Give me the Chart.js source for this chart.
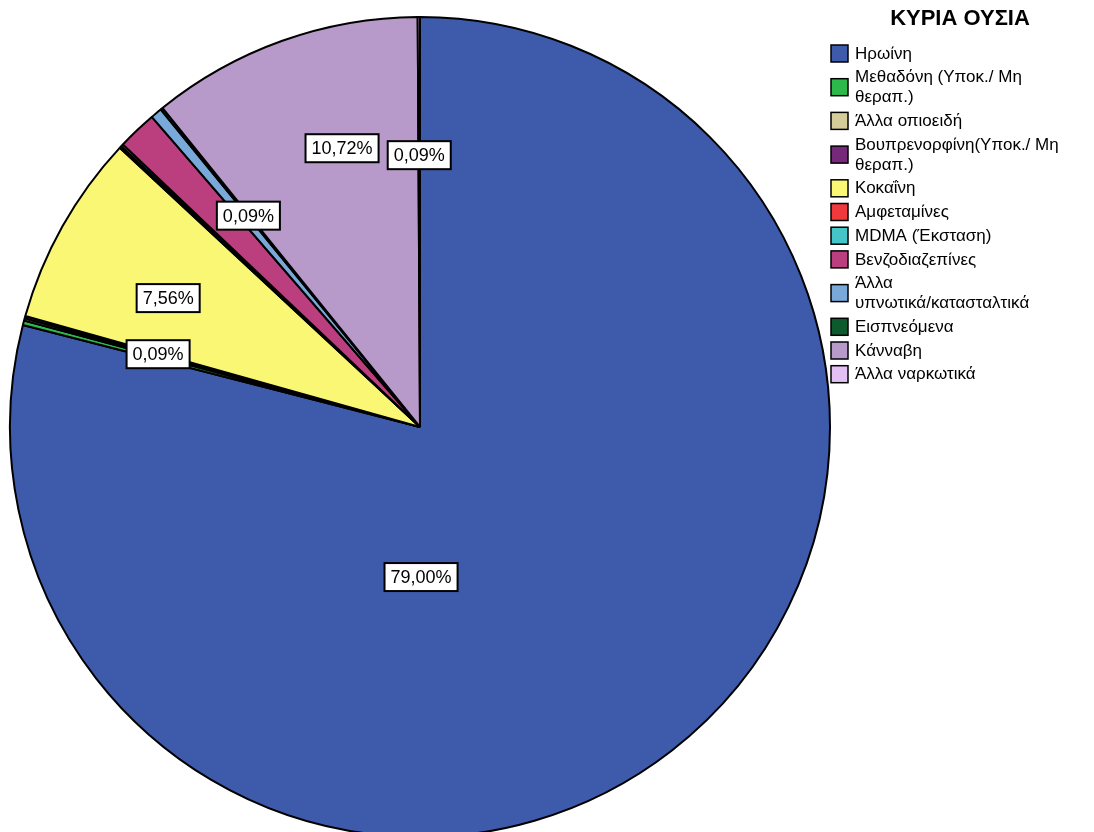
<!DOCTYPE html>
<html>
<head>
<meta charset="utf-8">
<script src="https://cdn.jsdelivr.net/npm/chart.js@4"></script>
<style>
  html, body { margin: 0; padding: 0; background: #fff; overflow: hidden; }
  #wrap { width: 1094px; height: 860px; }
</style>
</head>
<body>
<div id="wrap"><canvas id="my-chart" width="1094" height="860"></canvas></div>
<script>
// categories (legend order = slice order, clockwise from 12 o'clock)
const substances = [
  'Ηρωίνη',
  'Μεθαδόνη (Υποκ./ Μη θεραπ.)',
  'Άλλα οπιοειδή',
  'Βουπρενορφίνη(Υποκ./ Μη θεραπ.)',
  'Κοκαΐνη',
  'Αμφεταμίνες',
  'MDMA (Έκσταση)',
  'Βενζοδιαζεπίνες',
  'Άλλα υπνωτικά/κατασταλτικά',
  'Εισπνεόμενα',
  'Κάνναβη',
  'Άλλα ναρκωτικά'
];
// percent of cases
const percents = [79.00, 0.18, 0.09, 0.09, 7.56, 0.09, 0.09, 1.55, 0.45, 0.09, 10.72, 0.09];
const sliceColors = [
  '#3e5aab', '#2db84b', '#d4cd9a', '#76297a', '#faf775', '#f0393c',
  '#46c5c8', '#bb3e7e', '#78a9d9', '#0d5a2e', '#b79ac9', '#e3c0f3'
];
// which slices carry a value box
const showLabel = [true, false, false, true, true, false, false, false, false, true, true, true];

// where each value box sits: fraction of radius, degrees away from slice middle
const labelPlace = [
  { r: 0.366, a: 37.4 }, null, null, { r: 0.663, a: 0 }, { r: 0.69, a: -2.2 },
  null, null, null, null, { r: 0.664, a: 0 }, { r: 0.706, a: 4 }, { r: 0.663, a: 0 }
];

const fmt = v => v.toFixed(2).replace('.', ',') + '%';

const valueBoxes = {
  id: 'valueBoxes',
  afterDatasetsDraw(chart) {
    const ctx = chart.ctx;
    const meta = chart.getDatasetMeta(0);
    ctx.save();
    ctx.font = '18px "Liberation Sans", Arial, sans-serif';
    ctx.textAlign = 'center';
    ctx.textBaseline = 'middle';
    meta.data.forEach((arc, i) => {
      if (!showLabel[i]) return;
      const p = arc.getProps(['x', 'y', 'startAngle', 'endAngle', 'outerRadius'], true);
      const place = labelPlace[i];
      const mid = (p.startAngle + p.endAngle) / 2 + place.a * Math.PI / 180;
      const cx = p.x + Math.cos(mid) * p.outerRadius * place.r;
      const cy = p.y + Math.sin(mid) * p.outerRadius * place.r;
      const txt = fmt(percents[i]);
      const w = ctx.measureText(txt).width + 12;
      const h = 28;
      ctx.fillStyle = '#fff';
      ctx.fillRect(cx - w / 2, cy - h / 2, w, h);
      ctx.strokeStyle = '#000';
      ctx.lineWidth = 2;
      ctx.strokeRect(cx - w / 2, cy - h / 2, w, h);
      ctx.fillStyle = '#000';
      ctx.fillText(txt, cx, cy + 1);
    });
    ctx.restore();
  }
};

function wrapText(ctx, text, maxW) {
  const words = text.split(' ');
  const lines = [];
  let cur = '';
  words.forEach(w => {
    const test = cur ? cur + ' ' + w : w;
    if (ctx.measureText(test).width > maxW && cur) {
      lines.push(cur);
      cur = w;
    } else {
      cur = test;
    }
  });
  if (cur) lines.push(cur);
  return lines;
}

const sideLegend = {
  id: 'sideLegend',
  afterDraw(chart) {
    const ctx = chart.ctx;
    ctx.save();
    ctx.fillStyle = '#000';
    ctx.font = 'bold 22px "Liberation Sans", Arial, sans-serif';
    ctx.textAlign = 'center';
    ctx.textBaseline = 'middle';
    ctx.fillText('ΚΥΡΙΑ ΟΥΣΙΑ', 960, 19);

    ctx.font = '17px "Liberation Sans", Arial, sans-serif';
    ctx.textAlign = 'left';
    const lineH = 20;
    let y = 53;
    chart.data.labels.forEach((lab, i) => {
      const lines = wrapText(ctx, lab, 210);
      const mid = y + (lines.length - 1) * lineH / 2;
      ctx.fillStyle = chart.data.datasets[0].backgroundColor[i];
      ctx.fillRect(831, mid - 8, 17, 17);
      ctx.strokeStyle = '#000';
      ctx.lineWidth = 1.5;
      ctx.strokeRect(831, mid - 8, 17, 17);
      ctx.fillStyle = '#000';
      lines.forEach((ln, k) => ctx.fillText(ln, 855, y + k * lineH + 1));
      y += lines.length * lineH + 3.7;
    });
    ctx.restore();
  }
};

const ctx = document.querySelector('#my-chart').getContext('2d');
const chart = new Chart(ctx, {
  type: 'pie',
  data: {
    labels: substances,
    datasets: [{
      data: percents,
      backgroundColor: sliceColors,
      borderColor: '#000',
      borderWidth: 2
    }]
  },
  options: {
    responsive: false,
    animation: false,
    devicePixelRatio: 1,
    radius: 410,
    layout: { padding: { top: 17, left: 10, right: 264, bottom: 23 } },
    plugins: {
      legend: { display: false },
      tooltip: { enabled: false }
    }
  },
  plugins: [valueBoxes, sideLegend]
});
</script>
</body>
</html>
